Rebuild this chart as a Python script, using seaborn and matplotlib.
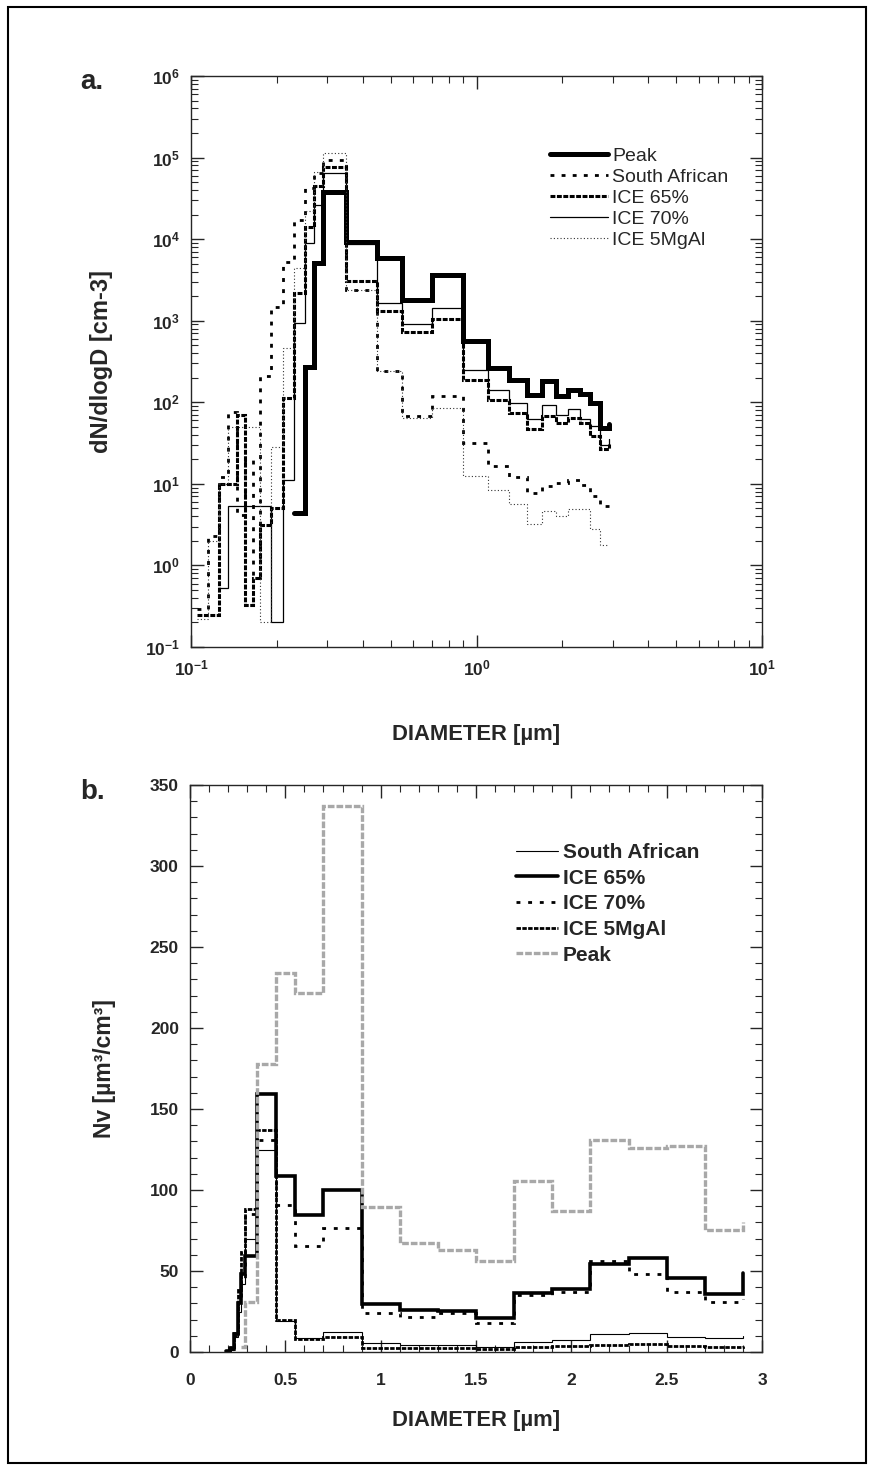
import numpy as np
import pandas as pd
import matplotlib
matplotlib.use("Agg")
import matplotlib.pyplot as plt
import seaborn as sns
from matplotlib.ticker import LogLocator, NullFormatter, MultipleLocator, FixedLocator
from matplotlib.patches import Rectangle

nan = np.nan

# ---- data: lower bin edges (um); last value is the end point of each step curve
diameter = [0.105, 0.115, 0.125, 0.135, 0.145, 0.155, 0.165, 0.175, 0.19, 0.21,
            0.23, 0.25, 0.27, 0.29, 0.35, 0.45, 0.55, 0.70, 0.90, 1.1,
            1.3, 1.5, 1.7, 1.9, 2.1, 2.3, 2.5, 2.7, 2.9]

# panel a: dN/dlogD [cm-3]
peak_a = [nan] * 10 + [4.4, 274, 5100, 38000, 9300, 5800, 1770, 3600, 570, 263,
                       188, 123, 180, 120, 142, 126, 99, 48, 54]
south_african_a = [0.29, 2.3, 12, 77, 4.1, 19.7, 0.71, 210, 1460, 5200,
                   17200, 42000, 64000, 93500, 2400, 240, 68, 120, 32, 16.7,
                   12.3, 7.7, 9.5, 10.2, 11.2, 9.7, 7.0, 5.4, 5.4]
ice65_a = [0.25, 0.25, 10, 10, 70, 0.33, 0.71, 3.1, 5.0, 112,
           2170, 14200, 45000, 76000, 3100, 1320, 720, 1040, 188, 107,
           73, 47, 67, 56, 65, 55, 39, 27, 31]
ice70_a = [nan, nan, 0.53, 5.4, 5.4, 5.4, 5.4, 5.4, 0.2, 11,
           930, 9000, 26000, 65000, 8800, 1670, 910, 1420, 250, 140,
           99, 62, 93, 70, 83, 63, 51, 30, 35]
ice5mgal_a = [0.22, 2.0, 10, 49.5, 49.5, 49.5, 49.5, 0.2, 28.7, 460,
              4400, 22000, 67000, 113000, 2400, 240, 65, 85, 12.6, 8.3,
              5.7, 3.2, 4.6, 4.0, 4.9, 4.9, 2.8, 1.8, 1.8]

# panel b: Nv [um3/cm3]
south_african_b = [nan] * 8 + [0.3, 1.5, 9, 25, 42, 70, 125, 19, 8.4, 12.6,
                               5.3, 4.5, 4.3, 3.3, 6, 7.4, 10.9, 12, 9.3, 8.6, 10]
ice65_b = [nan] * 8 + [0.5, 2, 11, 30, 48, 59, 159, 108.6, 84.5, 100,
                       29.6, 26, 25.3, 20.8, 36.2, 38.7, 54.1, 58, 45.9, 35.8, 49]
ice70_b = [nan] * 8 + [0.3, 1.5, 10, 30, 45, 85, 131, 90.7, 65.4, 76.7,
                       24.3, 21.4, 23.9, 18.1, 35.2, 37, 56.4, 48, 36.8, 30.9, 33]
ice5mgal_b = [nan] * 8 + [0.5, 3, 12, 38, 62, 88, 137, 19.8, 7.8, 9.1,
                          2.7, 2.5, 2.5, 1.8, 3.3, 3.7, 4.2, 5.2, 3.9, 3.0, 4.0]
peak_b = [nan] * 12 + [3, 31, 178, 234, 221.6, 337, 89.7, 67.5, 63, 56.4,
                       105.5, 87, 131, 125.7, 127, 75.3, 80]

df_a = pd.DataFrame({"diameter": diameter, "Peak": peak_a,
                     "South African": south_african_a, "ICE 65%": ice65_a,
                     "ICE 70%": ice70_a, "ICE 5MgAl": ice5mgal_a})
df_b = pd.DataFrame({"diameter": diameter, "South African": south_african_b,
                     "ICE 65%": ice65_b, "ICE 70%": ice70_b,
                     "ICE 5MgAl": ice5mgal_b, "Peak": peak_b})

sns.set_style("ticks")
plt.rcParams["font.family"] = ["Liberation Sans", "DejaVu Sans"]
plt.rcParams["mathtext.fontset"] = "custom"
plt.rcParams["mathtext.rm"] = "Liberation Sans"
plt.rcParams["mathtext.bf"] = "Liberation Sans:bold"
plt.rcParams["axes.linewidth"] = 1.0

fig = plt.figure(figsize=(8.72, 14.69), dpi=100)
W, H = 872, 1469
def ax_rect(l, t, r, b):
    return [l / W, 1 - b / H, (r - l) / W, (b - t) / H]

ax1 = fig.add_axes(ax_rect(191, 76, 762, 647))
ax2 = fig.add_axes(ax_rect(190, 785, 762, 1352))

common = dict(solid_joinstyle="miter", dash_joinstyle="miter", dash_capstyle="butt")
styles_a = {
    "Peak": dict(color="black", linewidth=3.6, linestyle="-"),
    "South African": dict(color="black", linewidth=2.0, linestyle=(0, (1.4, 2.6))),
    "ICE 65%": dict(color="black", linewidth=2.2, linestyle=(0, (1.6, 0.5))),
    "ICE 70%": dict(color="black", linewidth=0.9, linestyle="-"),
    "ICE 5MgAl": dict(color="#333333", linewidth=0.8, linestyle=(0, (1.0, 2.0))),
}
styles_b = {
    "South African": dict(color="black", linewidth=0.8, linestyle="-"),
    "ICE 65%": dict(color="black", linewidth=2.6, linestyle="-"),
    "ICE 70%": dict(color="black", linewidth=2.0, linestyle=(0, (1.4, 2.8))),
    "ICE 5MgAl": dict(color="black", linewidth=2.0, linestyle=(0, (1.6, 0.5))),
    "Peak": dict(color="#a8a8a8", linewidth=2.4, linestyle=(0, (2.0, 0.6))),
}

for name, st in styles_a.items():
    sns.lineplot(data=df_a, x="diameter", y=name, ax=ax1, drawstyle="steps-post",
                 estimator=None, errorbar=None, label=name, **st, **common)
for name, st in styles_b.items():
    sns.lineplot(data=df_b, x="diameter", y=name, ax=ax2, drawstyle="steps-post",
                 estimator=None, errorbar=None, label=name, **st, **common)

# ---- panel a axes
ax1.set_xscale("log")
ax1.set_yscale("log")
ax1.set_xlim(0.1, 10)
ax1.set_ylim(0.1, 1e6)
ax1.xaxis.set_major_locator(FixedLocator([0.1, 1, 10]))
ax1.set_xticklabels([r"$\mathbf{10^{-1}}$", r"$\mathbf{10^{0}}$", r"$\mathbf{10^{1}}$"])
ax1.xaxis.set_minor_locator(LogLocator(base=10, subs=np.arange(2, 10)))
ax1.xaxis.set_minor_formatter(NullFormatter())
yt = [10.0 ** k for k in range(-1, 7)]
ax1.yaxis.set_major_locator(FixedLocator(yt))
ax1.set_yticklabels([r"$\mathbf{10^{%d}}$" % k for k in range(-1, 7)])
ax1.yaxis.set_minor_locator(LogLocator(base=10, subs=np.arange(2, 10), numticks=20))
ax1.yaxis.set_minor_formatter(NullFormatter())
ax1.tick_params(which="both", direction="in", top=True, right=True, labelsize=12.5)
ax1.tick_params(which="major", length=9, width=1)
ax1.tick_params(which="minor", length=5, width=0.8)
ax1.tick_params(axis="x", pad=8)
ax1.tick_params(axis="y", pad=8)
ax1.set_xlabel("DIAMETER [µm]", fontsize=15.8, fontweight="bold")
ax1.set_ylabel("dN/dlogD [cm-3]", fontsize=17, fontweight="bold")
ax1.xaxis.set_label_coords(0.5, -0.135)
ax1.yaxis.set_label_coords(-0.137, 0.5)
h, l = ax1.get_legend_handles_labels()
ax1.legend(h, l, loc="upper left", bbox_to_anchor=(0.629, 0.875), frameon=False,
           fontsize=14, handlelength=3.0, handletextpad=0.2, labelspacing=0.17,
           borderpad=0, borderaxespad=0)

# ---- panel b axes
ax2.set_xlim(0, 3)
ax2.set_ylim(0, 350)
ax2.xaxis.set_major_locator(MultipleLocator(0.5))
ax2.xaxis.set_minor_locator(MultipleLocator(0.1))
ax2.yaxis.set_major_locator(MultipleLocator(50))
ax2.yaxis.set_minor_locator(MultipleLocator(10))
ax2.set_xticks([0, 0.5, 1, 1.5, 2, 2.5, 3])
ax2.set_xticklabels(["0", "0.5", "1", "1.5", "2", "2.5", "3"])
ax2.tick_params(which="both", direction="in", top=True, right=True, labelsize=12.5)
ax2.tick_params(which="major", length=9, width=1)
ax2.tick_params(which="minor", length=5, width=0.8)
ax2.tick_params(axis="x", pad=15)
ax2.tick_params(axis="y", pad=8)
for lab in ax1.get_xticklabels() + ax1.get_yticklabels() + ax2.get_xticklabels() + ax2.get_yticklabels():
    lab.set_fontweight("bold")
ax2.set_xlabel("DIAMETER [µm]", fontsize=15.8, fontweight="bold")
ax2.set_ylabel("Nv [µm³/cm³]", fontsize=16.5, fontweight="bold")
ax2.xaxis.set_label_coords(0.5, -0.102)
ax2.yaxis.set_label_coords(-0.129, 0.5)
h, l = ax2.get_legend_handles_labels()
leg2 = ax2.legend(h, l, loc="upper left", bbox_to_anchor=(0.570, 0.898), frameon=False,
                  fontsize=15, handlelength=2.0, handletextpad=0.25, labelspacing=0.32,
                  borderpad=0, borderaxespad=0)
for t in leg2.get_texts():
    t.set_fontweight("bold")

# panel letters and frame
fig.text(80 / W, 1 - 82 / H, "a.", fontsize=20, fontweight="bold", va="center", ha="left")
fig.text(80 / W, 1 - 792 / H, "b.", fontsize=20, fontweight="bold", va="center", ha="left")
fig.patches.append(Rectangle((8 / W, 6 / H), 858 / W, 1456 / H, transform=fig.transFigure,
                             fill=False, edgecolor="black", linewidth=1.5))

fig.savefig("out.png", dpi=100)
